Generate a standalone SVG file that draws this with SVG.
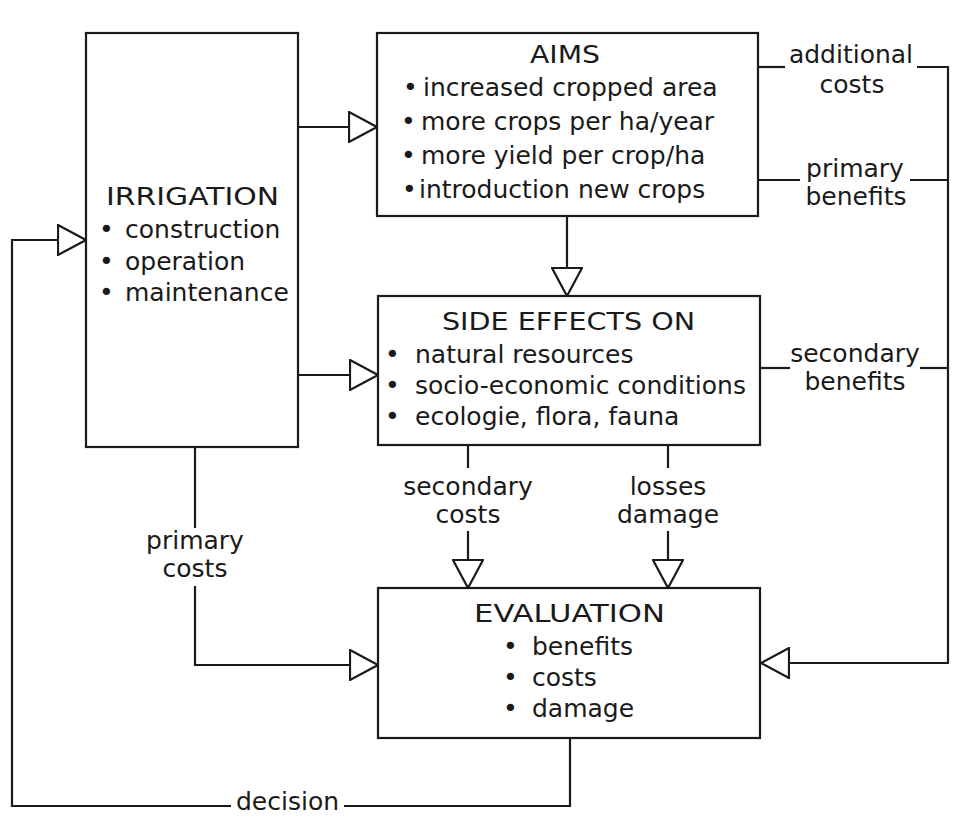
<svg xmlns="http://www.w3.org/2000/svg" width="971" height="818" viewBox="0 0 971 818">
<style>
  text { font-family: "DejaVu Sans", "Liberation Sans", sans-serif; font-size: 25px; fill: #1a1a1a; }
  .c { text-anchor: middle; }
  .box { fill: #fff; stroke: #1a1a1a; stroke-width: 2.2; }
  .ln { fill: none; stroke: #1a1a1a; stroke-width: 2.2; }
</style>
<defs>
  <marker id="tri" viewBox="0 0 30 32" refX="29" refY="16" markerWidth="30" markerHeight="32" orient="auto" markerUnits="userSpaceOnUse">
    <path d="M1,1 L29,16 L1,31 Z" fill="#fff" stroke="#1a1a1a" stroke-width="2.2" stroke-linejoin="miter"/>
  </marker>
</defs>
<rect width="971" height="818" fill="#fff"/>

<g id="irrigation">
  <rect class="box" x="86" y="33" width="212" height="414"/>
  <text x="106" y="205" textLength="173" lengthAdjust="spacingAndGlyphs">IRRIGATION</text>
  <text y="238"><tspan x="99">•</tspan><tspan x="125">construction</tspan></text>
  <text y="270"><tspan x="99">•</tspan><tspan x="125">operation</tspan></text>
  <text y="301"><tspan x="99">•</tspan><tspan x="125">maintenance</tspan></text>
</g>

<g id="aims">
  <rect class="box" x="377" y="33" width="381" height="183"/>
  <text x="530" y="63" textLength="70" lengthAdjust="spacingAndGlyphs">AIMS</text>
  <text y="96"><tspan x="403">•</tspan><tspan x="423">increased cropped area</tspan></text>
  <text y="130"><tspan x="401">•</tspan><tspan x="421">more crops per ha/year</tspan></text>
  <text y="164"><tspan x="401">•</tspan><tspan x="421">more yield per crop/ha</tspan></text>
  <text y="198"><tspan x="402">•</tspan><tspan x="419">introduction new crops</tspan></text>
</g>

<g id="side-effects">
  <rect class="box" x="378" y="296" width="382" height="149"/>
  <text x="442" y="330" textLength="253" lengthAdjust="spacingAndGlyphs">SIDE EFFECTS ON</text>
  <text y="363"><tspan x="385">•</tspan><tspan x="415">natural resources</tspan></text>
  <text y="394"><tspan x="385">•</tspan><tspan x="415">socio-economic conditions</tspan></text>
  <text y="425"><tspan x="385">•</tspan><tspan x="415">ecologie, flora, fauna</tspan></text>
</g>

<g id="evaluation">
  <rect class="box" x="378" y="588" width="382" height="150"/>
  <text x="474" y="622" textLength="191" lengthAdjust="spacingAndGlyphs">EVALUATION</text>
  <text y="655"><tspan x="503">•</tspan><tspan x="532">benefits</tspan></text>
  <text y="686"><tspan x="503">•</tspan><tspan x="532">costs</tspan></text>
  <text y="717"><tspan x="503">•</tspan><tspan x="532">damage</tspan></text>
</g>

<g id="connectors">
  <path class="ln" d="M298,127 H377" marker-end="url(#tri)"/>
  <path class="ln" d="M298,375 H378" marker-end="url(#tri)"/>
  <path class="ln" d="M567,216 V296" marker-end="url(#tri)"/>

  <path class="ln" d="M570,738 V806 H344"/>
  <path class="ln" d="M231,806 H12 V240 H86" marker-end="url(#tri)"/>

  <path class="ln" d="M195,447 V528"/>
  <path class="ln" d="M195,586 V665 H378" marker-end="url(#tri)"/>

  <path class="ln" d="M468,445 V468"/>
  <path class="ln" d="M468,531 V588" marker-end="url(#tri)"/>
  <path class="ln" d="M668,445 V468"/>
  <path class="ln" d="M668,531 V588" marker-end="url(#tri)"/>

  <path class="ln" d="M758,67 H785"/>
  <path class="ln" d="M917,67 H948 V663 H761" marker-end="url(#tri)"/>
  <path class="ln" d="M758,180 H800"/>
  <path class="ln" d="M910,180 H948"/>
  <path class="ln" d="M760,368 H790"/>
  <path class="ln" d="M920,368 H948"/>
</g>

<g id="labels">
  <text class="c" x="851" y="63">additional</text>
  <text class="c" x="852" y="93">costs</text>
  <text class="c" x="855" y="177">primary</text>
  <text class="c" x="856" y="205">benefits</text>
  <text class="c" x="855" y="362">secondary</text>
  <text class="c" x="855" y="390">benefits</text>
  <text class="c" x="468" y="495">secondary</text>
  <text class="c" x="468" y="523">costs</text>
  <text class="c" x="668" y="495">losses</text>
  <text class="c" x="668" y="523">damage</text>
  <text class="c" x="195" y="549">primary</text>
  <text class="c" x="195" y="577">costs</text>
  <text x="236" y="810">decision</text>
</g>
</svg>
